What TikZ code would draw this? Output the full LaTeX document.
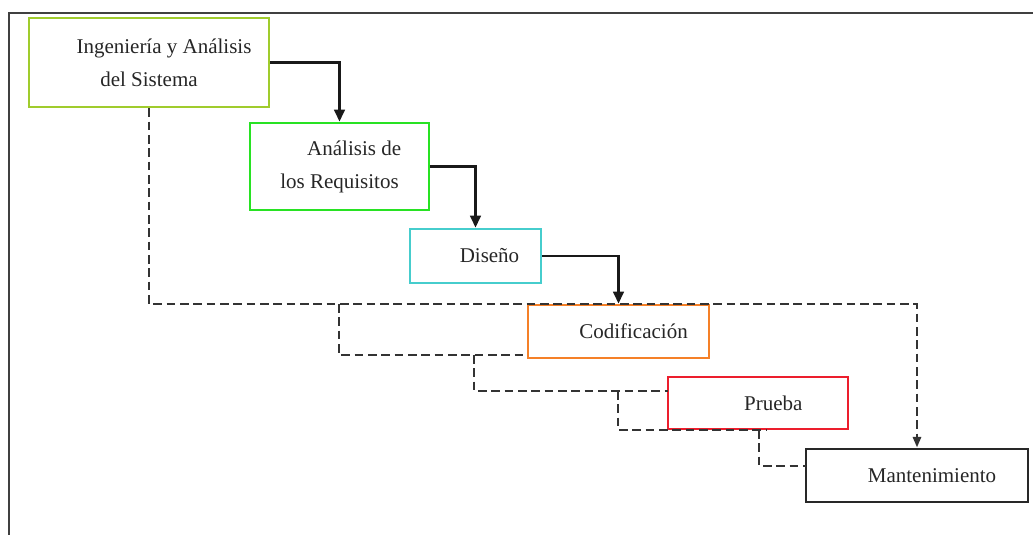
\documentclass[tikz,border=0pt]{standalone}
\usepackage{fontspec}
\setmainfont{Liberation Serif}
\usetikzlibrary{arrows.meta}
\definecolor{cIng}{RGB}{160,204,45}
\definecolor{cReq}{RGB}{40,226,35}
\definecolor{cDis}{RGB}{70,205,205}
\definecolor{cCod}{RGB}{245,128,40}
\definecolor{cPru}{RGB}{236,30,45}
\definecolor{cMan}{RGB}{40,40,40}
\begin{document}
\begin{tikzpicture}[x=0.75pt,y=-0.75pt,
  box/.style={draw, line width=2.1pt, rectangle, inner sep=0pt, align=center,
    font=\fontsize{15.75}{24.75}\selectfont, text=black!85},
  flow/.style={draw=black!90, line width=1.8pt, -{Triangle[length=9pt,width=8pt]}},
  fb/.style={draw=black!80, line width=2.1pt, dash pattern=on 6.5pt off 3.5pt},
  fbarrow/.style={fb, -{Triangle[length=8pt,width=6pt]}},
  frame/.style={draw=black!75, line width=1.6pt}
]
\useasboundingbox (0,0) rectangle (1033,535);
% outer frame
\coordinate (frBL) at (9,535);
\coordinate (frTL) at (9,13);
\coordinate (frTR) at (1033,13);
\draw[frame] (frBL) -- (frTL) -- (frTR);

% boxes
\node[box, draw=cIng, minimum width=180pt, minimum height=66.75pt] (b1) at (149,62.5)
  {\hspace*{22.5pt}Ingeniería y Análisis\\del Sistema};
\node[box, draw=cReq, minimum width=134.25pt, minimum height=65.25pt] (b2) at (339.5,166.5)
  {\hspace*{22pt}Análisis de\\los Requisitos};
\node[box, draw=cDis, minimum width=98.25pt, minimum height=40.5pt] (b3) at (475.5,256)
  {\hspace*{21pt}Diseño};
\node[box, draw=cCod, minimum width=135.75pt, minimum height=39.75pt] (b4) at (618.5,331.5)
  {\hspace*{22.5pt}Codificación};
\node[box, draw=cPru, minimum width=135pt, minimum height=39pt] (b5) at (758,403)
  {\hspace*{23pt}Prueba};
\node[box, draw=cMan, minimum width=166.5pt, minimum height=39.75pt] (b6) at (917,475.5)
  {\hspace*{22.5pt}Mantenimiento};

% forward flow
\draw[flow] (b1.east) -| (b2.north);
\draw[flow] (b2.east) -| (b3.north);
\draw[flow] (b3.east) -| (b4.north);

% feedback lines
\coordinate (fbR) at (917,304);
\draw[fbarrow] (b1.south) |- (fbR) -- (b6.north);

\coordinate (k1s) at (339,304);
\coordinate (k1e) at (528,355);
\draw[fb] (k1s) |- (k1e);

\coordinate (k2s) at (474,355);
\coordinate (k2e) at (668,391);
\draw[fb] (k2s) |- (k2e);

\coordinate (k3s) at (618,391);
\coordinate (k3e) at (767,430);
\draw[fb] (k3s) |- (k3e);

\coordinate (k4s) at (759,430);
\coordinate (k4e) at (806,466);
\draw[fb] (k4s) |- (k4e);
\end{tikzpicture}
\end{document}
